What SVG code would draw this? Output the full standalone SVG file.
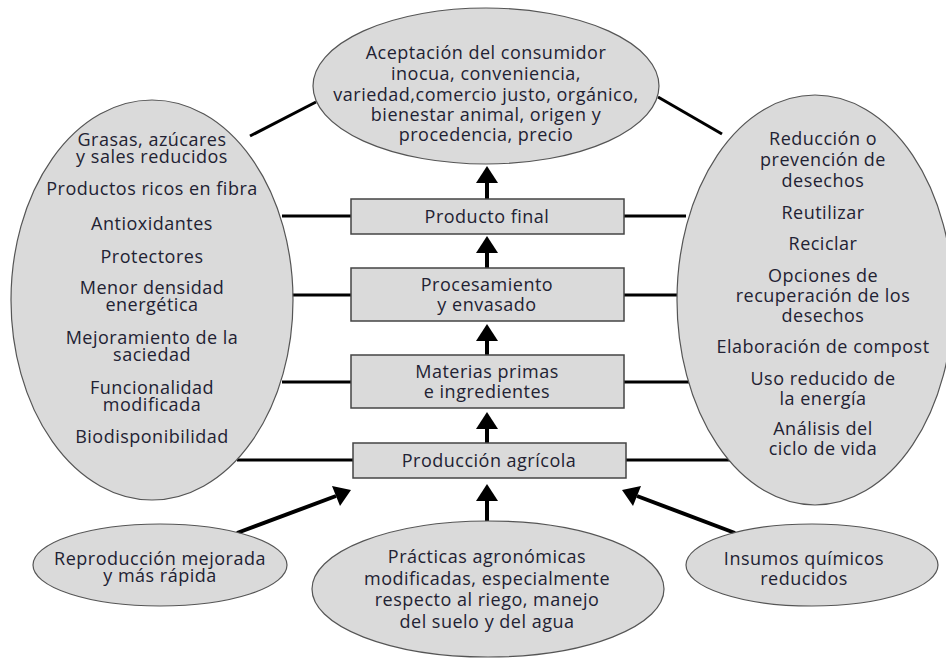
<svg xmlns="http://www.w3.org/2000/svg" width="946" height="658" viewBox="0 0 946 658">
<style>
.ell{fill:#dadada;stroke:#555;stroke-width:1.2}
.box{fill:#dadada;stroke:#444;stroke-width:1.5}
.t{font-family:"Open Sans","Noto Sans",sans-serif;font-size:18px;letter-spacing:0.5px;fill:#222233;text-anchor:middle}
.ln{stroke:#000;stroke-width:3;fill:none}
.ar{stroke:#000;stroke-width:4;fill:none}
.hd{fill:#000}
</style>
<rect width="946" height="658" fill="#fff"/>
<g id="connectors">
<line class="ln" x1="250" y1="136" x2="316" y2="102"/>
<line class="ln" x1="658" y1="97" x2="722" y2="134"/>
<line class="ln" x1="282" y1="216" x2="351" y2="216"/>
<line class="ln" x1="624" y1="216" x2="686" y2="216"/>
<line class="ln" x1="291" y1="295" x2="351" y2="295"/>
<line class="ln" x1="624" y1="295" x2="677" y2="295"/>
<line class="ln" x1="282" y1="382" x2="351" y2="382"/>
<line class="ln" x1="624" y1="382" x2="689" y2="382"/>
<line class="ln" x1="237" y1="460" x2="353" y2="460"/>
<line class="ln" x1="626" y1="460" x2="730" y2="460"/>
<line class="ar" x1="487" y1="199" x2="487" y2="182"/>
<polygon class="hd" points="487,166 476,183 498,183"/>
<line class="ar" x1="487" y1="268" x2="487" y2="252"/>
<polygon class="hd" points="487,236 476,253 498,253"/>
<line class="ar" x1="487" y1="355" x2="487" y2="340"/>
<polygon class="hd" points="487,324 476,341 498,341"/>
<line class="ar" x1="487" y1="443" x2="487" y2="428"/>
<polygon class="hd" points="487,412 476,429 498,429"/>
<line class="ar" x1="487" y1="522" x2="487" y2="500"/>
<polygon class="hd" points="487,484 476,501 498,501"/>
<line class="ar" x1="237" y1="533" x2="336" y2="496"/>
<polygon class="hd" points="351,490 332,486 340,506"/>
<line class="ar" x1="735" y1="533" x2="637" y2="496"/>
<polygon class="hd" points="622,490 641,486 633,506"/>
</g>
<g id="consumidor">
<ellipse class="ell" cx="486" cy="86" rx="173" ry="78"/>
<text class="t" x="486" y="59">Aceptación del consumidor</text>
<text class="t" x="486" y="80">inocua, conveniencia,</text>
<text class="t" x="486" y="101">variedad,comercio justo, orgánico,</text>
<text class="t" x="486" y="121">bienestar animal, origen y</text>
<text class="t" x="486" y="141">procedencia, precio</text>
</g>
<g id="salud">
<ellipse class="ell" cx="152" cy="300" rx="141" ry="200"/>
<text class="t" x="152" y="146">Grasas, azúcares</text>
<text class="t" x="152" y="163">y sales reducidos</text>
<text class="t" x="152" y="195">Productos ricos en fibra</text>
<text class="t" x="152" y="230">Antioxidantes</text>
<text class="t" x="152" y="263">Protectores</text>
<text class="t" x="152" y="294">Menor densidad</text>
<text class="t" x="152" y="311">energética</text>
<text class="t" x="152" y="344">Mejoramiento de la</text>
<text class="t" x="152" y="361">saciedad</text>
<text class="t" x="152" y="394">Funcionalidad</text>
<text class="t" x="152" y="411">modificada</text>
<text class="t" x="152" y="443">Biodisponibilidad</text>
</g>
<g id="desechos">
<ellipse class="ell" cx="815" cy="300" rx="138" ry="205"/>
<text class="t" x="823" y="145">Reducción o</text>
<text class="t" x="823" y="166">prevención de</text>
<text class="t" x="823" y="187">desechos</text>
<text class="t" x="823" y="219">Reutilizar</text>
<text class="t" x="823" y="250">Reciclar</text>
<text class="t" x="823" y="282">Opciones de</text>
<text class="t" x="823" y="302">recuperación de los</text>
<text class="t" x="823" y="322">desechos</text>
<text class="t" x="823" y="353">Elaboración de compost</text>
<text class="t" x="823" y="385">Uso reducido de</text>
<text class="t" x="823" y="405">la energía</text>
<text class="t" x="823" y="435">Análisis del</text>
<text class="t" x="823" y="455">ciclo de vida</text>
</g>
<g id="producto-final">
<rect class="box" x="351" y="199" width="273" height="35"/>
<text class="t" x="487" y="223">Producto final</text>
</g>
<g id="procesamiento">
<rect class="box" x="351" y="268" width="273" height="53"/>
<text class="t" x="487" y="291">Procesamiento</text>
<text class="t" x="487" y="311">y envasado</text>
</g>
<g id="materias">
<rect class="box" x="351" y="355" width="273" height="53"/>
<text class="t" x="487" y="378">Materias primas</text>
<text class="t" x="487" y="398">e ingredientes</text>
</g>
<g id="produccion">
<rect class="box" x="353" y="443" width="273" height="35"/>
<text class="t" x="489" y="467">Producción agrícola</text>
</g>
<g id="reproduccion">
<ellipse class="ell" cx="160" cy="565" rx="127" ry="41"/>
<text class="t" x="160" y="565">Reproducción mejorada</text>
<text class="t" x="160" y="582">y más rápida</text>
</g>
<g id="practicas">
<ellipse class="ell" cx="488" cy="589" rx="176" ry="68"/>
<text class="t" x="487" y="563">Prácticas agronómicas</text>
<text class="t" x="487" y="585">modificadas, especialmente</text>
<text class="t" x="487" y="606">respecto al riego, manejo</text>
<text class="t" x="487" y="628">del suelo y del agua</text>
</g>
<g id="insumos">
<ellipse class="ell" cx="812" cy="565" rx="126" ry="41"/>
<text class="t" x="804" y="565">Insumos químicos</text>
<text class="t" x="804" y="585">reducidos</text>
</g>
</svg>
